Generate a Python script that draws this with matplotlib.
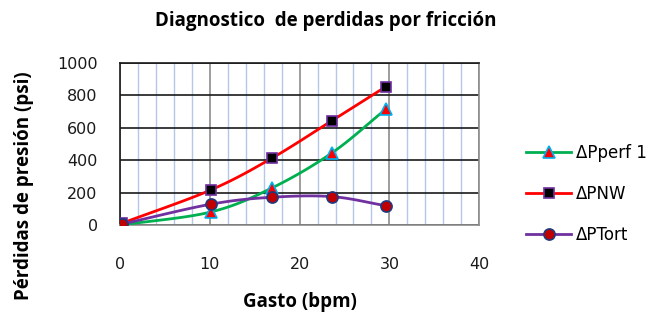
import numpy as np
import matplotlib
matplotlib.use('Agg')
import matplotlib.pyplot as plt
from matplotlib.ticker import MultipleLocator

# ── Datos ───────────────────────────────────────────────────────────────────
gasto = [0.2, 10.1, 16.9, 23.6, 29.6]
dp_perf = [0, 80, 228, 445, 715]
dp_nw = [10, 216, 412, 644, 854]
dp_tort = [5, 128, 171, 175, 119]
series_names = ["ΔPperf 1", "ΔPNW", "ΔPTort"]

FONT_B = "Open Sans"     # textos en negrita
FONT_R = "DejaVu Sans"   # números y leyenda


def suavizar(x, y, n=30):
    """Curva tipo Catmull-Rom (como la línea suavizada de Excel)."""
    x = np.asarray(x, float)
    y = np.asarray(y, float)
    px = np.concatenate([[2 * x[0] - x[1]], x, [2 * x[-1] - x[-2]]])
    py = np.concatenate([[2 * y[0] - y[1]], y, [2 * y[-1] - y[-2]]])
    xs, ys = [], []
    t = np.linspace(0, 1, n)
    for i in range(1, len(px) - 2):
        for p, out in ((px, xs), (py, ys)):
            p0, p1, p2, p3 = p[i - 1], p[i], p[i + 1], p[i + 2]
            out.append(0.5 * (2 * p1 + (-p0 + p2) * t
                              + (2 * p0 - 5 * p1 + 4 * p2 - p3) * t ** 2
                              + (-p0 + 3 * p1 - 3 * p2 + p3) * t ** 3))
    return np.concatenate(xs), np.concatenate(ys)


fig = plt.figure(figsize=(6.52, 3.2), dpi=100)
ax = fig.add_axes([0.184, 0.297, 0.551, 0.506])

estilos = [
    dict(color="#00B050", marker="^", mfc="#FF0000", mec="#00B0F0", ms=8),
    dict(color="#FF0000", marker="s", mfc="#000000", mec="#7030A0", ms=7.5),
    dict(color="#7030A0", marker="o", mfc="#C00000", mec="#1F3A80", ms=8),
]

handles = []
for ys, name, st in zip([dp_perf, dp_nw, dp_tort], series_names, estilos):
    sx, sy = suavizar(gasto, ys)
    ax.plot(sx, sy, color=st["color"], lw=2, zorder=3)
    ax.plot(gasto, ys, ls="none", marker=st["marker"], ms=st["ms"],
            mfc=st["mfc"], mec=st["mec"], mew=1.2, zorder=4)
    h, = ax.plot([], [], color=st["color"], lw=2, marker=st["marker"],
                 ms=st["ms"], mfc=st["mfc"], mec=st["mec"], mew=1.2)
    handles.append(h)

ax.set_xlim(0, 40)
ax.set_ylim(0, 1000)
ax.xaxis.set_major_locator(MultipleLocator(10))
ax.xaxis.set_minor_locator(MultipleLocator(2))
ax.yaxis.set_major_locator(MultipleLocator(200))

ax.grid(True, which="minor", axis="x", color="#B4C7E7", lw=1)
ax.grid(True, which="major", axis="x", color="#8C8C8C", lw=1.2)
ax.grid(True, which="major", axis="y", color="#1A1A1A", lw=1.2)
ax.set_axisbelow(True)

for s in ["left", "top"]:
    ax.spines[s].set_color("#1A1A1A")
    ax.spines[s].set_linewidth(1.2)
for s in ["right", "bottom"]:
    ax.spines[s].set_color("#8C8C8C")
    ax.spines[s].set_linewidth(1.2)

ax.tick_params(which="both", length=0)
ax.tick_params(axis="x", pad=23)
ax.tick_params(axis="y", pad=16)
for lbl in ax.get_xticklabels() + ax.get_yticklabels():
    lbl.set_fontfamily(FONT_R)
    lbl.set_fontsize(11.5)
    lbl.set_color("#1A1A1A")

fig.text(0.5, 0.935, "Diagnostico  de perdidas por fricción",
         fontfamily=FONT_B, fontsize=13.5, fontweight="bold",
         ha="center", va="center")
ax.set_xlabel("Gasto (bpm)", fontfamily=FONT_B, fontsize=13.5,
              fontweight="bold")
ax.xaxis.set_label_coords(0.5, -0.415)
ax.set_ylabel("Pérdidas de presión (psi)", fontfamily=FONT_B, fontsize=13.5,
              fontweight="bold")
ax.yaxis.set_label_coords(-0.24, 0.24)

fig.legend(handles=handles, labels=series_names, loc="center left",
           bbox_to_anchor=(0.784, 0.394), frameon=False,
           prop=dict(family=FONT_R, size=12), labelspacing=1.4,
           handlelength=2.7, handletextpad=0.3)

fig.savefig("out.png", dpi=100)
